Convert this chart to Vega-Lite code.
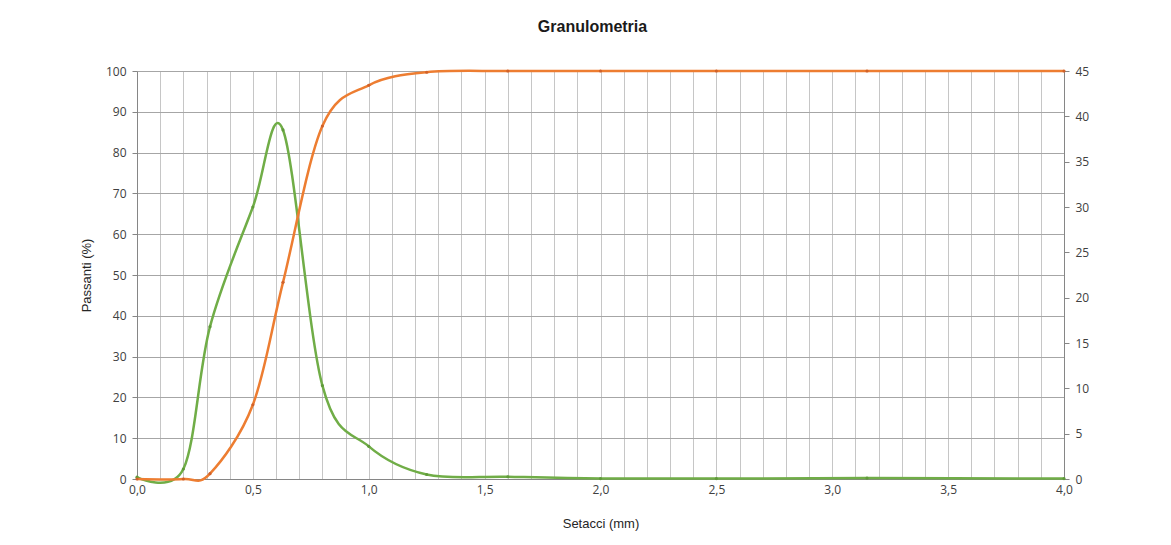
{
  "$schema": "https://vega.github.io/schema/vega-lite/v6.json",
  "width": 927,
  "height": 408,
  "autosize": {"type": "none"},
  "padding": {"left": 137, "top": 71, "right": 107, "bottom": 66},
  "background": "white",
  "config": {
    "locale": {"number": {"decimal": ",", "thousands": ".", "grouping": [3], "currency": ["€", ""]}},
    "view": {"stroke": null},
    "axis": {
      "labelFont": "Open Sans",
      "labelFontSize": 12,
      "labelColor": "#404040",
      "titleFont": "Liberation Sans",
      "titleFontSize": 13,
      "titleFontWeight": "normal",
      "titleColor": "#262626",
      "domainColor": "#868686",
      "tickColor": "#868686"
    }
  },
  "title": {
    "text": "Granulometria",
    "font": "Liberation Sans",
    "fontSize": 16,
    "fontWeight": "bold",
    "color": "#1a1a1a",
    "anchor": "middle",
    "dx": -8,
    "offset": 30
  },
  "data": {
    "values": [
      {"setaccio": 0, "passanti": 0, "trattenuti": 0.2},
      {"setaccio": 0.2, "passanti": 0, "trattenuti": 1.1},
      {"setaccio": 0.315, "passanti": 1.3, "trattenuti": 16.8},
      {"setaccio": 0.5, "passanti": 18.2, "trattenuti": 30.0},
      {"setaccio": 0.63, "passanti": 48.2, "trattenuti": 38.5},
      {"setaccio": 0.8, "passanti": 86.5, "trattenuti": 10.3},
      {"setaccio": 1.0, "passanti": 96.5, "trattenuti": 3.6},
      {"setaccio": 1.25, "passanti": 99.7, "trattenuti": 0.5},
      {"setaccio": 1.6, "passanti": 100, "trattenuti": 0.25},
      {"setaccio": 2.0, "passanti": 100, "trattenuti": 0.05},
      {"setaccio": 2.5, "passanti": 100, "trattenuti": 0.05},
      {"setaccio": 3.15, "passanti": 100, "trattenuti": 0.1},
      {"setaccio": 4.0, "passanti": 100, "trattenuti": 0.05}
    ]
  },
  "encoding": {
    "x": {
      "field": "setaccio",
      "type": "quantitative",
      "scale": {"domain": [0, 4], "nice": false, "zero": false},
      "axis": {
        "title": "Setacci (mm)",
        "values": [0,0.1,0.2,0.3,0.4,0.5,0.6,0.7,0.8,0.9,1.0,1.1,1.2,1.3,1.4,1.5,1.6,1.7,1.8,1.9,2.0,2.1,2.2,2.3,2.4,2.5,2.6,2.7,2.8,2.9,3.0,3.1,3.2,3.3,3.4,3.5,3.6,3.7,3.8,3.9,4.0],
        "labelExpr": "abs(datum.value * 2 - round(datum.value * 2)) < 0.001 ? replace(format(datum.value, '.1f'), '.', ',') : ''",
        "labelFlush": false,
        "labelOverlap": false,
        "ticks": false,
        "labelPadding": 5,
        "grid": true,
        "gridColor": "#c6c6c6",
        "gridWidth": 1,
        "titlePadding": 22
      }
    }
  },
  "layer": [
    {
      "mark": {"type": "line", "interpolate": "cardinal", "color": "#70AD47", "strokeWidth": 2.5, "point": {"size": 10, "filled": true, "color": "#5f9a3a"}},
      "encoding": {
        "y": {
          "field": "trattenuti",
          "type": "quantitative",
          "scale": {"domain": [0, 45], "nice": false},
          "axis": {"orient": "right", "title": null, "grid": false, "values": [0,5,10,15,20,25,30,35,40,45], "tickSize": 5, "labelPadding": 6}
        }
      }
    },
    {
      "mark": {"type": "line", "interpolate": "cardinal", "color": "#ED7D31", "strokeWidth": 2.5, "point": {"size": 10, "filled": true, "color": "#d0612a"}},
      "encoding": {
        "y": {
          "field": "passanti",
          "type": "quantitative",
          "scale": {"domain": [0, 100], "nice": false},
          "axis": {"orient": "left", "title": "Passanti (%)", "grid": true, "gridColor": "#a6a6a6", "values": [0,10,20,30,40,50,60,70,80,90,100], "tickSize": 5, "labelPadding": 6, "titlePadding": 12}
        }
      }
    }
  ],
  "resolve": {"scale": {"y": "independent"}, "axis": {"y": "independent"}}
}
